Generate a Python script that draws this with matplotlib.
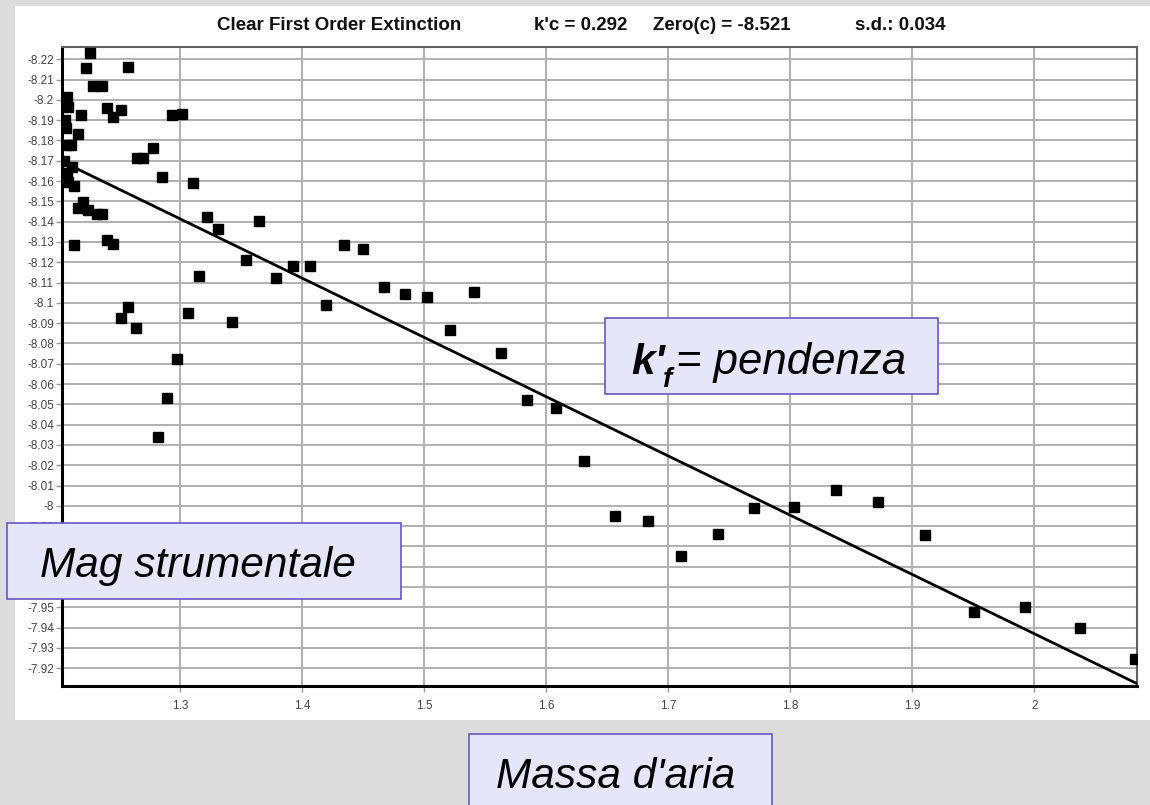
import matplotlib
matplotlib.use("Agg")
import matplotlib.pyplot as plt
from matplotlib.patches import Rectangle
from matplotlib.text import Annotation
import numpy as np

# ---- data ----
airmass = [1.2265, 1.2230, 1.2571, 1.2284, 1.2358, 1.2071, 1.2079, 1.2189, 1.2399, 1.2454,
           1.2514, 1.2937, 1.3019, 1.2057, 1.2066, 1.2162, 1.2071, 1.2104, 1.2645, 1.2699,
           1.2776, 1.2052, 1.2112, 1.2071, 1.2085, 1.2131, 1.2855, 1.3109, 1.2207, 1.2166,
           1.2248, 1.2317, 1.2358, 1.3219, 1.3314, 1.3648, 1.2399, 1.2454, 1.2131, 1.4344,
           1.4503, 1.3538, 1.3924, 1.4061, 1.3158, 1.3784, 1.4675, 1.2514, 1.2571, 1.2639,
           1.3063, 1.3424, 1.4197, 1.2973, 1.2896, 1.2817, 1.4844, 1.5022, 1.5412, 1.5213,
           1.5629, 1.5842, 1.6080, 1.6314, 1.6566, 1.6831, 1.7699, 1.7107, 1.7412, 1.8027,
           1.8377, 1.8719, 1.9101, 1.9503, 1.9920, 2.0374, 2.0824]
inst_mag = [-8.2232, -8.2156, -8.2161, -8.2068, -8.2068, -8.2016, -8.1966, -8.1926, -8.1959, -8.1914,
            -8.1950, -8.1926, -8.1931, -8.1901, -8.1860, -8.1831, -8.1778, -8.1778, -8.1715, -8.1715,
            -8.1765, -8.1700, -8.1668, -8.1638, -8.1597, -8.1576, -8.1619, -8.1592, -8.1499, -8.1466,
            -8.1458, -8.1438, -8.1438, -8.1425, -8.1366, -8.1403, -8.1311, -8.1291, -8.1285, -8.1285,
            -8.1264, -8.1211, -8.1183, -8.1183, -8.1133, -8.1121, -8.1080, -8.0927, -8.0981, -8.0878,
            -8.0949, -8.0907, -8.0990, -8.0725, -8.0530, -8.0338, -8.1044, -8.1028, -8.1055, -8.0866,
            -8.0752, -8.0522, -8.0481, -8.0221, -7.9950, -7.9927, -7.9991, -7.9751, -7.9862, -7.9996,
            -8.0078, -8.0021, -7.9857, -7.9479, -7.9503, -7.9397, -7.9244]
k_c = 0.292
zero_c = -8.521
sd = 0.034
x_ticks = [1.3, 1.4, 1.5, 1.6, 1.7, 1.8, 1.9, 2.0]
x_tick_labels = ["1.3", "1.4", "1.5", "1.6", "1.7", "1.8", "1.9", "2"]
y_ticks = [round(-8.22 + 0.01 * i, 2) for i in range(31)]

plt.rcParams['font.family'] = ['Liberation Sans', 'DejaVu Sans']

W, H = 1150, 805
fig = plt.figure(figsize=(W / 100, H / 100), dpi=100)
fig.patch.set_facecolor('#dcdcdc')

# white panel (behind everything)
fig.patches.append(Rectangle((15 / W, 1 - 720 / H), 1 - 15 / W, (720 - 6) / H,
                             transform=fig.transFigure, facecolor='white',
                             edgecolor='none', zorder=-5))

ax = fig.add_axes([62.3 / W, 1 - 685.7 / H, (1137.3 - 62.3) / W, (685.7 - 46.7) / H])
ax.set_zorder(1)
ax.set_facecolor('white')
ax.set_xlim(1.2035, 2.0844)
ax.set_ylim(-7.9114, -8.2262)

ax.set_xticks(x_ticks)
ax.set_xticklabels(x_tick_labels)
ax.set_yticks(y_ticks)
ax.set_yticklabels([f"{v:g}" for v in y_ticks])
ax.grid(True, color='#b0b0b0', linewidth=1.4, zorder=1)
ax.set_axisbelow(True)
ax.tick_params(direction='out', length=4, width=1, color='#999999',
               labelsize=8.5, labelcolor='#444444', pad=2)
ax.tick_params(axis='x', pad=6)

for s in ['left', 'bottom']:
    ax.spines[s].set_color('black')
    ax.spines[s].set_linewidth(2.2)
for s in ['top', 'right']:
    ax.spines[s].set_color('#606060')
    ax.spines[s].set_linewidth(1.5)

xl = np.array(ax.get_xlim())
ax.plot(xl, zero_c + k_c * xl, color='black', linewidth=2, zorder=3)
ax.plot(airmass, inst_mag, linestyle='none', marker='s', markersize=7.5,
        color='black', zorder=4)

# header texts
ty = 1 - 26 / H
hdr = dict(fontsize=13.5, fontweight='bold', va='center', ha='left', color='#111111')
fig.text(217 / W, ty, "Clear First Order Extinction", **hdr)
fig.text(534 / W, ty, f"k'c = {k_c:.3f}", **hdr)
fig.text(653 / W, ty, f"Zero(c) = {zero_c:.3f}", **hdr)
fig.text(855 / W, ty, f"s.d.: {sd:.3f}", **hdr)

box_fc = '#e6e6fa'
box_ec = '#6a55c8'

def add_box(x0, y0, x1, y1):
    fig.patches.append(Rectangle((x0 / W, 1 - y1 / H), (x1 - x0) / W, (y1 - y0) / H,
                                 transform=fig.transFigure, facecolor=box_fc,
                                 edgecolor=box_ec, linewidth=1.2, zorder=10))

big = 30.5

# Mag strumentale
add_box(7, 523, 401, 599)
fig.text(40 / W, 1 - 577 / H, "Mag strumentale", fontsize=big, fontstyle='italic',
         ha='left', va='baseline', zorder=11)

# k'f = pendenza
add_box(605, 318, 938, 394)
t1 = fig.text(631 / W, 1 - 374 / H, "k'", fontsize=big, fontstyle='italic',
              fontweight='bold', ha='left', va='baseline', zorder=11)
t2 = Annotation("f", xy=(1, 0), xycoords=t1, xytext=(-1, -7), textcoords='offset points',
                fontsize=20, fontstyle='italic', fontweight='bold',
                ha='left', va='bottom', zorder=11, annotation_clip=False)
fig.add_artist(t2)
t3 = Annotation("= pendenza", xy=(1, 0), xycoords=t1, xytext=(8, 0),
                textcoords='offset points', fontsize=31.5, fontstyle='italic',
                ha='left', va='bottom', zorder=11, annotation_clip=False)
fig.add_artist(t3)

# Massa d'aria
add_box(469, 734, 772, 812)
fig.text(496 / W, 1 - 788 / H, "Massa d'aria", fontsize=big, fontstyle='italic',
         ha='left', va='baseline', zorder=11)

fig.savefig("out.png", dpi=100, facecolor=fig.get_facecolor())
